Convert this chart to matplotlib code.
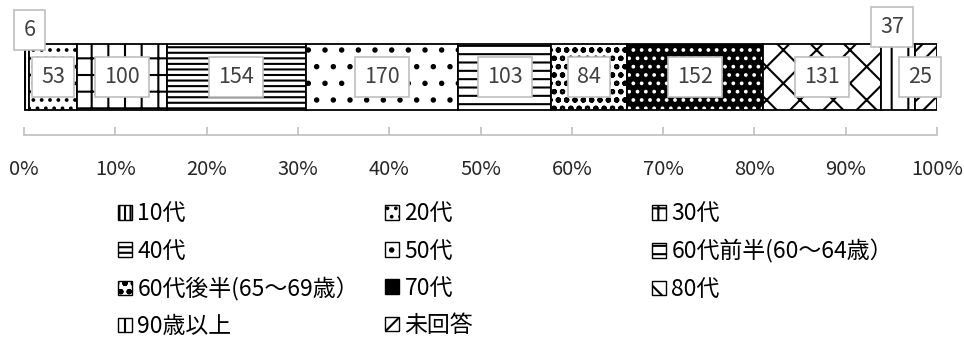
import matplotlib

matplotlib.use("Agg")
import matplotlib.pyplot as plt
import matplotlib.patches as mpatches
import numpy as np
from matplotlib.ticker import PercentFormatter

plt.rcParams["font.family"] = ["Noto Sans CJK JP", "DejaVu Sans"]
plt.rcParams["hatch.linewidth"] = 1.5

categories = [
    "10代",
    "20代",
    "30代",
    "40代",
    "50代",
    "60代前半(60～64歳）",
    "60代後半(65～69歳）",
    "70代",
    "80代",
    "90歳以上",
    "未回答",
]
counts = [6, 53, 100, 154, 170, 103, 84, 152, 131, 37, 25]

# style per segment: (face, hatch colour, hatch)
styles = [
    ("white", "black", "|||"),
    ("white", "black", ".."),
    ("white", "black", "+"),
    ("white", "black", "---"),
    ("white", "black", "."),
    ("white", "black", "--"),
    ("white", "black", "oo"),
    ("black", "white", ".."),
    ("white", "black", "x"),
    ("white", "black", "|"),
    ("white", "black", "//"),
]
# label nudges in points for the thin segments
label_offsets = {0: (2, 34), 9: (-4, 36), 10: (-4, 0)}

shares = np.array(counts) / sum(counts)
lefts = np.concatenate([[0], np.cumsum(shares)[:-1]])

fig = plt.figure(figsize=(9.64, 3.6), dpi=100)
ax = fig.add_axes([0.0249, 0.625, 0.9471, 0.2806])

bar_y, bar_h = 0.574, 0.653
for i, (w, left) in enumerate(zip(shares, lefts)):
    face, hcol, hatch = styles[i]
    ax.barh(bar_y, w, left=left, height=bar_h, color=face, edgecolor=hcol,
            hatch=hatch, linewidth=0)
    ax.barh(bar_y, w, left=left, height=bar_h, fill=False, edgecolor="black",
            linewidth=1.3)
    dx, dy = label_offsets.get(i, (0, 0))
    ax.annotate(
        str(counts[i]),
        (left + w / 2, bar_y),
        xytext=(dx, dy),
        textcoords="offset points",
        ha="center",
        va="center",
        fontsize=15.5,
        color="#404040",
        bbox={"boxstyle": "square,pad=0.42", "facecolor": "white",
              "edgecolor": "#bfbfbf", "linewidth": 1.2},
        annotation_clip=False,
    )

ax.set_xlim(0, 1)
ax.set_ylim(0, 1)
ax.set_xticks(np.linspace(0, 1, 11))
ax.xaxis.set_major_formatter(PercentFormatter(1.0, decimals=0))
ax.set_yticks([])
for side in ("top", "right", "left"):
    ax.spines[side].set_visible(False)
ax.spines["bottom"].set_color("#bfbfbf")
ax.spines["bottom"].set_linewidth(1.2)
ax.tick_params(axis="x", direction="in", length=6, width=1.2, color="#bfbfbf",
               pad=17, labelsize=14.5, labelcolor="#262626")
ax.patch.set_visible(False)

handles = [
    mpatches.Patch(facecolor=face, edgecolor="black", hatch=hatch, linewidth=1)
    for face, _, hatch in styles
]
col_x = [118 / 964, 385 / 964, 652 / 964]
for c, x in enumerate(col_x):
    idx = list(range(c, len(categories), 3))
    fig.legend(
        [handles[i] for i in idx],
        [categories[i] for i in idx],
        loc="upper left",
        bbox_to_anchor=(x, 0.438),
        frameon=False,
        fontsize=16.5,
        handlelength=0.6,
        handleheight=0.6,
        handletextpad=0.25,
        labelspacing=0.62,
        borderpad=0,
        borderaxespad=0,
    )

fig.savefig("out.png", dpi=100)
